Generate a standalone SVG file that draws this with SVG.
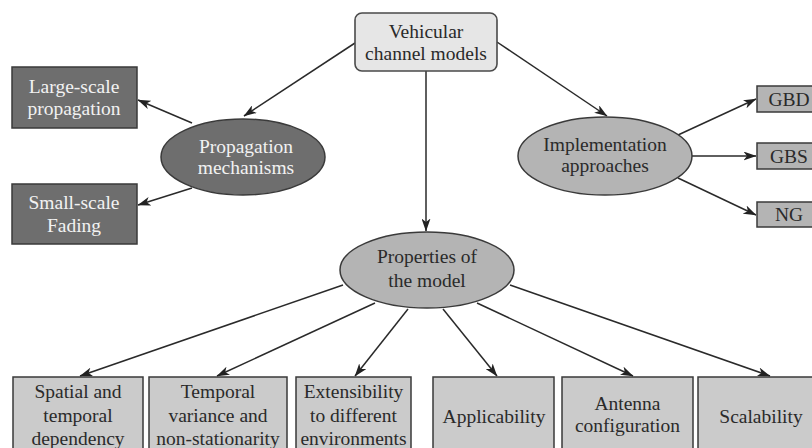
<svg xmlns="http://www.w3.org/2000/svg" width="812" height="448" viewBox="0 0 812 448">
  <defs>
    <marker id="arrow" viewBox="0 0 13 9" refX="12.5" refY="4.5" markerWidth="13" markerHeight="9" markerUnits="userSpaceOnUse" orient="auto">
      <path d="M0,0 L13,4.5 L0,9 L3.5,4.5 z" fill="#222"/>
    </marker>
    <style>
      text { font-family: "Liberation Serif", "Times New Roman", serif; font-size: 19.5px; text-anchor: middle; fill: #2a2a2a; }
      .light text, text.light { fill: #f2f2f2; }
      .root { fill: #e6e6e6; stroke: #4a4a4a; stroke-width: 1.6; }
      .dark { fill: #6e6e6e; stroke: #3a3a3a; stroke-width: 1.5; }
      .mid { fill: #b4b4b4; stroke: #3a3a3a; stroke-width: 1.5; }
      .leaf { fill: #cbcbcb; stroke: #3a3a3a; stroke-width: 1.5; }
      .edges line { stroke: #2a2a2a; stroke-width: 1.5; fill: none; }
    </style>
  </defs>
  <rect width="812" height="448" fill="#ffffff"/>

  <!-- connectors -->
  <g class="edges" id="connectors">
    <line x1="355" y1="43" x2="244" y2="116" marker-end="url(#arrow)"/>
    <line x1="497" y1="42" x2="607" y2="116" marker-end="url(#arrow)"/>
    <line x1="426" y1="71" x2="426" y2="231" marker-end="url(#arrow)"/>
    <line x1="192" y1="123" x2="138" y2="100" marker-end="url(#arrow)"/>
    <line x1="192" y1="188" x2="138" y2="205" marker-end="url(#arrow)"/>
    <line x1="678" y1="135" x2="756" y2="99" marker-end="url(#arrow)"/>
    <line x1="692" y1="156" x2="756" y2="156" marker-end="url(#arrow)"/>
    <line x1="678" y1="178" x2="756" y2="215" marker-end="url(#arrow)"/>
    <line x1="343" y1="285" x2="80" y2="376" marker-end="url(#arrow)"/>
    <line x1="375" y1="303" x2="217" y2="376" marker-end="url(#arrow)"/>
    <line x1="408" y1="309" x2="355" y2="376" marker-end="url(#arrow)"/>
    <line x1="443" y1="309" x2="497" y2="376" marker-end="url(#arrow)"/>
    <line x1="477" y1="303" x2="633" y2="376" marker-end="url(#arrow)"/>
    <line x1="510" y1="285" x2="770" y2="376" marker-end="url(#arrow)"/>
  </g>

  <!-- root -->
  <g id="vehicular-channel-models">
    <rect class="root" x="355" y="13" width="142" height="58" rx="7"/>
    <text x="426" y="38">Vehicular</text>
    <text x="426" y="60">channel models</text>
  </g>

  <!-- propagation branch -->
  <g id="propagation-mechanisms" class="light">
    <ellipse class="dark" cx="243" cy="157" rx="82" ry="38"/>
    <text x="246" y="153">Propagation</text>
    <text x="246" y="174">mechanisms</text>
  </g>
  <g id="large-scale" class="light">
    <rect class="dark" x="12" y="67" width="125" height="61"/>
    <text x="74" y="93">Large-scale</text>
    <text x="74" y="115">propagation</text>
  </g>
  <g id="small-scale" class="light">
    <rect class="dark" x="12" y="184" width="125" height="60"/>
    <text x="74" y="209">Small-scale</text>
    <text x="74" y="232">Fading</text>
  </g>

  <!-- implementation branch -->
  <g id="implementation-approaches">
    <ellipse class="mid" cx="605" cy="156" rx="87" ry="39"/>
    <text x="605" y="151">Implementation</text>
    <text x="605" y="172">approaches</text>
  </g>
  <g id="gbd">
    <rect class="mid" x="757" y="86" width="64" height="26"/>
    <text x="789" y="106">GBD</text>
  </g>
  <g id="gbs">
    <rect class="mid" x="757" y="143" width="64" height="26"/>
    <text x="789" y="163">GBS</text>
  </g>
  <g id="ng">
    <rect class="mid" x="757" y="202" width="64" height="25"/>
    <text x="789" y="221">NG</text>
  </g>

  <!-- properties branch -->
  <g id="properties-of-the-model">
    <ellipse class="mid" cx="427" cy="270" rx="87" ry="38"/>
    <text x="427" y="263">Properties of</text>
    <text x="427" y="287">the model</text>
  </g>
  <g id="spatial-temporal">
    <rect class="leaf" x="13" y="377" width="130" height="80"/>
    <text x="78" y="398">Spatial and</text>
    <text x="78" y="422">temporal</text>
    <text x="78" y="445">dependency</text>
  </g>
  <g id="temporal-variance">
    <rect class="leaf" x="149" y="377" width="138" height="80"/>
    <text x="218" y="398">Temporal</text>
    <text x="218" y="422">variance and</text>
    <text x="218" y="445">non-stationarity</text>
  </g>
  <g id="extensibility">
    <rect class="leaf" x="296" y="377" width="115" height="80"/>
    <text x="353.5" y="398">Extensibility</text>
    <text x="353.5" y="422">to different</text>
    <text x="353.5" y="445">environments</text>
  </g>
  <g id="applicability">
    <rect class="leaf" x="433" y="377" width="121" height="80"/>
    <text x="494" y="423">Applicability</text>
  </g>
  <g id="antenna-configuration">
    <rect class="leaf" x="562" y="377" width="131" height="80"/>
    <text x="627.5" y="410">Antenna</text>
    <text x="627.5" y="432">configuration</text>
  </g>
  <g id="scalability">
    <rect class="leaf" x="698" y="377" width="126" height="80"/>
    <text x="761" y="423">Scalability</text>
  </g>
</svg>
